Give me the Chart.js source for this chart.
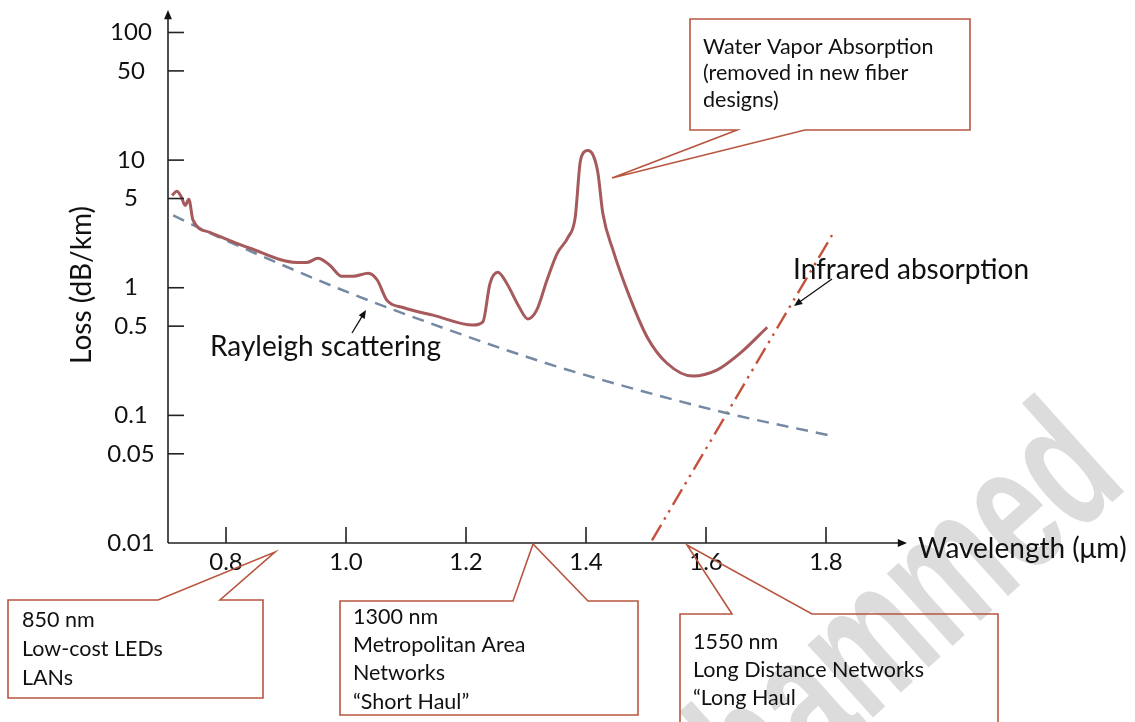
<!DOCTYPE html>
<html>
<head>
<meta charset="utf-8">
<script src="https://cdn.jsdelivr.net/npm/chart.js@4.4.1/dist/chart.umd.min.js"></script>
<style>
  html, body { margin: 0; padding: 0; background: #fff; }
  canvas { display: block; }
</style>
</head>
<body>
<canvas id="lossChart" width="1135" height="722"></canvas>
<script>
// Fiber attenuation data (wavelength in um, loss in dB/km)
const lossX = [0.71, 0.718, 0.725, 0.732, 0.738, 0.745, 0.773, 0.84, 0.918, 0.935, 0.953, 0.973, 0.993, 1.012, 1.037, 1.052, 1.068, 1.095, 1.145, 1.212, 1.228, 1.24, 1.253, 1.268, 1.287, 1.303, 1.318, 1.335, 1.352, 1.37, 1.382, 1.39, 1.395, 1.403, 1.412, 1.42, 1.428, 1.445, 1.473, 1.502, 1.535, 1.578, 1.618, 1.657, 1.702];
const lossY = [5.3, 5.69, 5.2, 4.42, 4.93, 3.38, 2.72, 2.04, 1.58, 1.58, 1.7, 1.5, 1.23, 1.23, 1.3, 1.15, 0.8, 0.7, 0.61, 0.51, 0.54, 1.08, 1.32, 1.08, 0.73, 0.57, 0.67, 1.15, 1.86, 2.48, 3.56, 9.43, 11.3, 11.9, 10.9, 7.87, 3.83, 1.97, 0.84, 0.41, 0.256, 0.203, 0.226, 0.307, 0.49];

const rayleighX = [0.712, 0.785, 0.895, 1.007, 1.173, 1.323, 1.428, 1.635, 1.81];
const rayleighY = [3.69, 2.53, 1.5, 0.906, 0.464, 0.266, 0.189, 0.104, 0.069];

const infraredX = [1.51, 1.81];
const infraredY = [0.0105, 2.58];

// Axis ticks
const xTicks = [0.8, 1.0, 1.2, 1.4, 1.6, 1.8];
const xTickLabels = ['0.8', '1.0', '1.2', '1.4', '1.6', '1.8'];
const yTicks = [0.01, 0.05, 0.1, 0.5, 1, 5, 10, 50, 100];
const yTickLabels = ['0.01', '0.05', '0.1', '0.5', '1', '5', '10', '50', '100'];

const FONT = 'Lato, "Open Sans", sans-serif';
const CALLOUT = '#b8553f';
const TEXT = '#111';

function toPoints(xs, ys) {
  return xs.map((x, i) => ({ x: x, y: ys[i] }));
}

function arrow(ctx, x1, y1, x2, y2, size) {
  const a = Math.atan2(y2 - y1, x2 - x1);
  ctx.beginPath();
  ctx.moveTo(x1, y1);
  ctx.lineTo(x2 - Math.cos(a) * size * 0.8, y2 - Math.sin(a) * size * 0.8);
  ctx.stroke();
  ctx.beginPath();
  ctx.moveTo(x2, y2);
  ctx.lineTo(x2 - size * Math.cos(a - 0.4), y2 - size * Math.sin(a - 0.4));
  ctx.lineTo(x2 - size * Math.cos(a + 0.4), y2 - size * Math.sin(a + 0.4));
  ctx.closePath();
  ctx.fill();
}

// callout box: pts is the outline polygon, lines are text rows
function callout(ctx, pts, textX, rows, lines) {
  ctx.save();
  ctx.beginPath();
  ctx.moveTo(pts[0][0], pts[0][1]);
  for (let i = 1; i < pts.length; i++) ctx.lineTo(pts[i][0], pts[i][1]);
  ctx.closePath();
  ctx.strokeStyle = CALLOUT;
  ctx.lineWidth = 1.6;
  ctx.stroke();
  ctx.fillStyle = TEXT;
  ctx.font = '21.5px ' + FONT;
  ctx.textAlign = 'left';
  ctx.textBaseline = 'middle';
  lines.forEach((t, i) => ctx.fillText(t, textX, rows[i]));
  ctx.restore();
}

const figurePlugin = {
  id: 'figure',
  beforeDraw(chart) {
    const ctx = chart.ctx;
    ctx.save();
    ctx.fillStyle = '#fff';
    ctx.fillRect(0, 0, chart.width, chart.height);
    // faint watermark
    ctx.translate(1130, 486);
    ctx.rotate(-42 * Math.PI / 180);
    ctx.scale(0.65, 1);
    ctx.fillStyle = '#dcdcdc';
    ctx.font = 'bold 185px "Liberation Sans", sans-serif';
    ctx.textAlign = 'right';
    ctx.textBaseline = 'alphabetic';
    ctx.fillText('Mohammed', 0, 0);
    ctx.restore();
  },
  afterDraw(chart) {
    const ctx = chart.ctx;
    const xs = chart.scales.x, ys = chart.scales.y;
    const area = chart.chartArea;
    const x0 = area.left, y0 = area.bottom;

    ctx.save();
    ctx.strokeStyle = '#222';
    ctx.fillStyle = '#111';
    ctx.lineWidth = 1.6;

    // axes with arrow heads
    arrow(ctx, x0, y0, x0, area.top, 10);
    arrow(ctx, x0, y0, area.right, y0, 10);

    // y ticks (pointing into the plot)
    ctx.font = '24px ' + FONT;
    ctx.fillStyle = TEXT;
    ctx.textAlign = 'center';
    ctx.textBaseline = 'middle';
    ys.ticks.forEach((t) => {
      const py = ys.getPixelForValue(t.value);
      if (t.value !== 0.01) {
        ctx.beginPath();
        ctx.moveTo(x0, py);
        ctx.lineTo(x0 + 16, py);
        ctx.stroke();
      }
      ctx.fillText(yTickLabels[yTicks.indexOf(t.value)], 131, py);
    });

    // x ticks (pointing up)
    xs.ticks.forEach((t) => {
      const px = xs.getPixelForValue(t.value);
      ctx.beginPath();
      ctx.moveTo(px, y0);
      ctx.lineTo(px, y0 - 16);
      ctx.stroke();
      ctx.fillText(xTickLabels[xTicks.indexOf(t.value)], px, y0 + 19);
    });

    // axis titles
    ctx.font = '28px ' + FONT;
    ctx.textAlign = 'left';
    ctx.fillText('Wavelength (\u03bcm)', 918, y0 + 6);
    ctx.save();
    ctx.translate(82, 285);
    ctx.rotate(-Math.PI / 2);
    ctx.textAlign = 'center';
    ctx.fillText('Loss (dB/km)', 0, 0);
    ctx.restore();

    // curve annotations
    ctx.textAlign = 'left';
    ctx.fillText('Rayleigh scattering', 210, 347);
    ctx.fillText('Infrared absorption', 793, 270);
    ctx.lineWidth = 1.3;
    ctx.strokeStyle = '#111';
    ctx.fillStyle = '#111';
    arrow(ctx, 352, 333, 366, 310, 9);
    arrow(ctx, 832, 279, 794, 306, 9);
    ctx.restore();

    // callouts
    callout(ctx, [[690, 19], [970, 19], [970, 130], [805, 130], [612, 178], [737, 130], [690, 130]],
      703, [47, 73, 100], ['Water Vapor Absorption', '(removed in new fiber', 'designs)']);
    callout(ctx, [[8, 600], [158, 600], [275, 552], [220, 600], [263, 600], [263, 698], [8, 698]],
      22, [620, 649, 678], ['850 nm', 'Low-cost LEDs', 'LANs']);
    callout(ctx, [[340, 601], [513, 601], [533, 544], [588, 601], [638, 601], [638, 715], [340, 715]],
      353, [617, 645, 673, 702], ['1300 nm', 'Metropolitan Area', 'Networks', '\u201cShort Haul\u201d']);
    callout(ctx, [[680, 614], [732, 614], [687, 545], [812, 614], [998, 614], [998, 740], [680, 740]],
      693, [642, 670, 698], ['1550 nm', 'Long Distance Networks', '\u201cLong Haul']);
  }
};

const ctx = document.getElementById('lossChart').getContext('2d');
const lossChart = new Chart(ctx, {
  type: 'scatter',
  data: {
    datasets: [
      {
        label: 'Total loss',
        data: toPoints(lossX, lossY),
        showLine: true,
        borderColor: '#a65a5c',
        borderWidth: 3,
        pointRadius: 0,
        cubicInterpolationMode: 'monotone',
        clip: false
      },
      {
        label: 'Rayleigh scattering',
        data: toPoints(rayleighX, rayleighY),
        showLine: true,
        borderColor: '#7489a3',
        borderWidth: 2.5,
        borderDash: [12, 8],
        pointRadius: 0,
        cubicInterpolationMode: 'monotone',
        clip: false
      },
      {
        label: 'Infrared absorption',
        data: toPoints(infraredX, infraredY),
        showLine: true,
        borderColor: '#c4523a',
        borderWidth: 2.4,
        borderDash: [18, 6, 2.5, 6, 2.5, 6],
        pointRadius: 0,
        clip: false
      }
    ]
  },
  options: {
    responsive: false,
    animation: false,
    devicePixelRatio: 1,
    layout: { padding: { left: 168, right: 228, top: 10, bottom: 179 } },
    plugins: { legend: { display: false }, tooltip: { enabled: false } },
    scales: {
      x: {
        type: 'linear',
        display: false,
        min: 0.7033,
        max: 1.935,
        afterBuildTicks: (scale) => { scale.ticks = xTicks.map(v => ({ value: v })); }
      },
      y: {
        type: 'logarithmic',
        display: false,
        min: 0.01,
        max: 150,
        afterBuildTicks: (scale) => { scale.ticks = yTicks.map(v => ({ value: v })); }
      }
    }
  },
  plugins: [figurePlugin]
});
</script>
</body>
</html>
